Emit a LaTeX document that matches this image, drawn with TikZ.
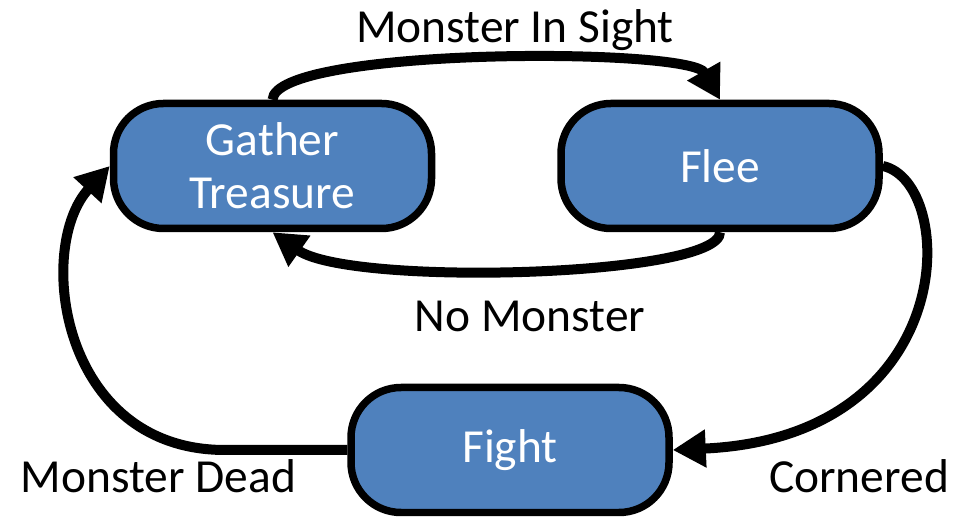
\documentclass[tikz,border=0pt]{standalone}
\usepackage{fontspec}
\setmainfont{Carlito}
\usetikzlibrary{arrows.meta}
\usetikzlibrary{positioning}
\definecolor{stateblue}{HTML}{4F81BD}
\newcommand{\statecolor}[0]{stateblue}
\tikzset{
    statebox/.style={rectangle, rounded corners=1cm, draw=black, line width=0.15cm, fill=\statecolor,
        text=white, align=center, minimum width=6.36cm, minimum height=2.5cm,
        font=\fontsize{27}{30}\selectfont},
    translabel/.style={anchor=base, font=\fontsize{27}{30}\selectfont},
    transition/.style={line width=0.2cm, -{Triangle[length=0.66cm, width=0.72cm]}}
}

\begin{document}
\begin{tikzpicture}
    \useasboundingbox (0,0) rectangle (19.12,10.34);
    \node[statebox] at (5.45,7.02)
        (gather) {Gather\\Treasure};
    \node[statebox, right=2.44cm of gather]
        (flee) {Flee};
    \node[statebox] at (10.2,1.34)
        (fight) {\raisebox{-0.08cm}{Fight}};
    % transitions
    \draw[transition] (gather.north) .. controls (5.5,9.4) and (13.8,9.4) .. (flee.north);
    \draw[transition] (flee.south) .. controls (14.4,4.8) and (7.0,4.6) .. (gather.south);
    \draw[transition] (flee.east) .. controls (19.15,6.7) and (19.25,1.6) .. (fight.east);
    \draw[transition] (fight.west) -- (4.5,1.34) .. controls (1.2,1.34) and (0.7,5.4) .. (gather.west);
    % labels
    \node[translabel] at (10.3,9.48) (sight) {Monster In Sight};
    \node[translabel] at (10.6,3.70) (nomonster) {No Monster};
    \node[translabel] at (3.17,0.50) (dead) {Monster Dead};
    \node[translabel] at (17.18,0.50) (cornered) {Cornered};
\end{tikzpicture}
\end{document}
